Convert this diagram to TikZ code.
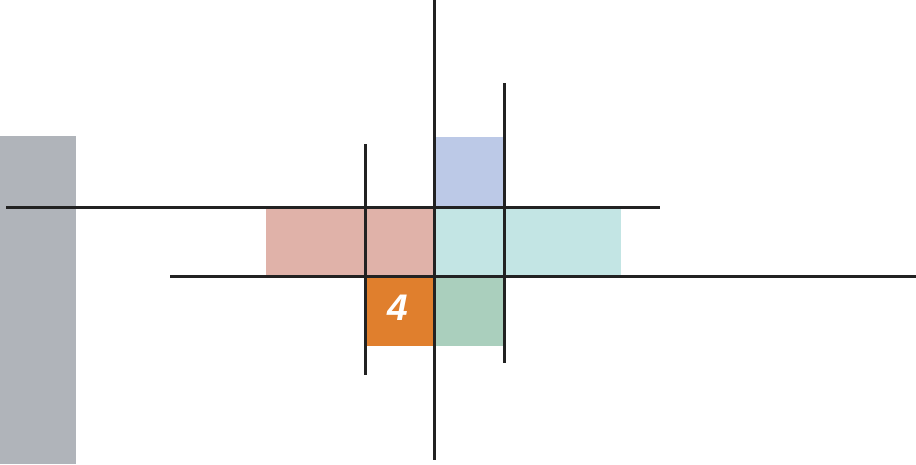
\documentclass[tikz,border=0pt]{standalone}
\usepackage{fontspec}
\setmainfont{Liberation Sans}
\begin{document}
\begin{tikzpicture}[x=1pt,y=-1pt,
  blk/.style={draw=none,inner sep=0pt,outer sep=0pt,anchor=north west},
  ln/.style={line width=3pt,draw=linec}]
\definecolor{linec}{HTML}{222222}
\definecolor{grayb}{HTML}{B0B4BA}
\definecolor{blueb}{HTML}{BCC9E7}
\definecolor{pinkb}{HTML}{E0B2A9}
\definecolor{tealb}{HTML}{C3E5E4}
\definecolor{orangeb}{HTML}{E07F2D}
\definecolor{greenb}{HTML}{AACFBD}
\useasboundingbox (0,0) rectangle (916,464);
\fill[grayb] (0,136) rectangle (76,464);
\node[blk,fill=blueb,minimum width=70pt,minimum height=70pt] (blue) at (434,137) {};
\node[blk,fill=pinkb,minimum width=168pt,minimum height=69pt] (pink) at (266,207) {};
\node[blk,fill=tealb,minimum width=187pt,minimum height=69pt] (teal) at (434,207) {};
\node[blk,fill=orangeb,minimum width=69pt,minimum height=70pt] (orange) at (365,276) {};
\node[blk,fill=greenb,minimum width=70pt,minimum height=70pt] (green) at (434,276) {};
\node[text=white,font=\fontsize{37}{37}\selectfont\bfseries\itshape] (four) at ([xshift=-2pt,yshift=3pt]orange.center) {4};
\coordinate (h1a) at (6,207);
\coordinate (h1b) at (660,207);
\coordinate (h2a) at (170,276);
\coordinate (h2b) at (916,276);
\coordinate (v1a) at (434,0);
\coordinate (v1b) at (434,460);
\coordinate (v2a) at (365,144);
\coordinate (v2b) at (365,375);
\coordinate (v3a) at (504,83);
\coordinate (v3b) at (504,363);
\draw[ln] (h1a) -- (h1b);
\draw[ln] (h2a) -- (h2b);
\draw[ln] (v1a) -- (v1b);
\draw[ln] (v2a) -- (v2b);
\draw[ln] (v3a) -- (v3b);
\end{tikzpicture}
\end{document}
